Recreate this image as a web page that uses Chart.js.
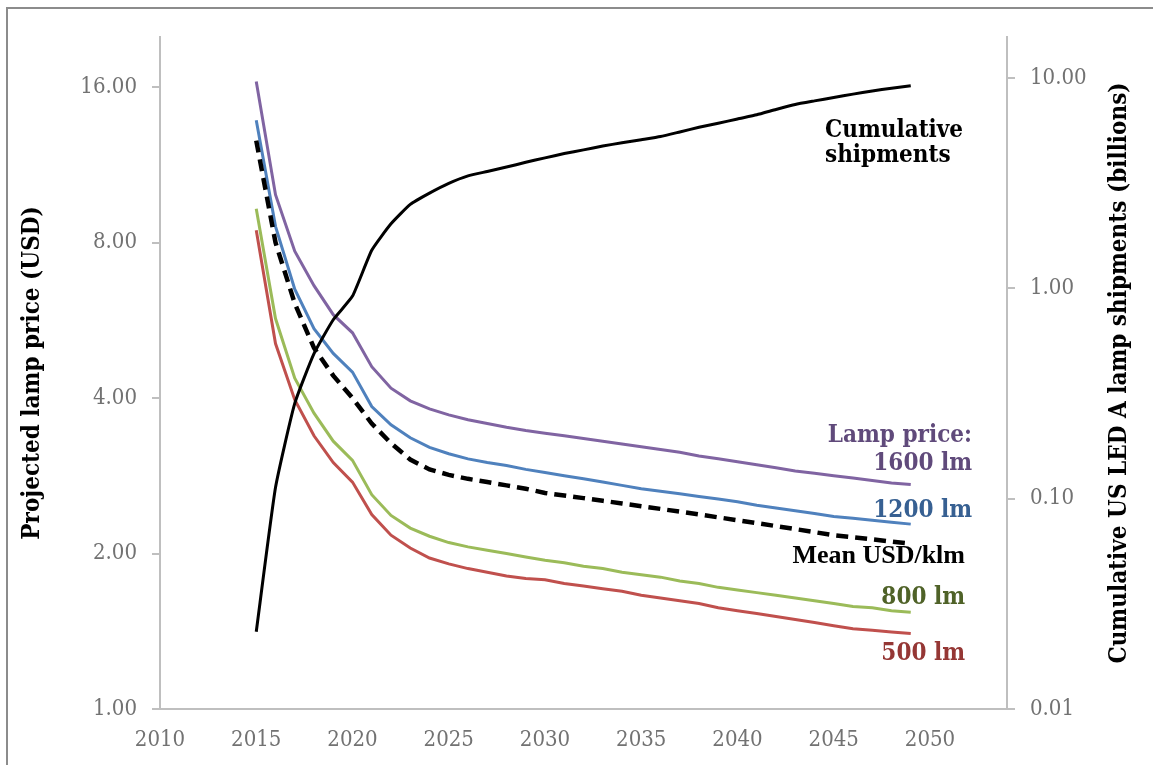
<!DOCTYPE html>
<html>
<head>
<meta charset="utf-8">
<script src="https://cdn.jsdelivr.net/npm/chart.js@4.4.1/dist/chart.umd.min.js"></script>
<style>
  html, body { margin: 0; padding: 0; background: #ffffff; }
  canvas { display: block; }
</style>
</head>
<body>
<canvas id="chart" width="1153" height="765"></canvas>
<script>
// Projection years
const years = [2015, 2016, 2017, 2018, 2019, 2020, 2021, 2022, 2023, 2024,
               2025, 2026, 2027, 2028, 2029, 2030, 2031, 2032, 2033, 2034,
               2035, 2036, 2037, 2038, 2039, 2040, 2041, 2042, 2043, 2044,
               2045, 2046, 2047, 2048, 2049];

// Projected lamp prices (USD) by lumen output
const price1600 = [16.4, 9.9, 7.7, 6.6, 5.8, 5.35, 4.6, 4.18, 3.95, 3.81,
                   3.71, 3.63, 3.57, 3.51, 3.46, 3.42, 3.38, 3.34, 3.30, 3.26,
                   3.22, 3.18, 3.14, 3.09, 3.05, 3.01, 2.97, 2.93, 2.89, 2.86,
                   2.83, 2.80, 2.77, 2.74, 2.72];
const price1200 = [13.8, 8.6, 6.5, 5.45, 4.88, 4.49, 3.85, 3.55, 3.35, 3.21,
                   3.12, 3.05, 3.00, 2.96, 2.91, 2.87, 2.83, 2.79, 2.75, 2.71,
                   2.67, 2.64, 2.61, 2.58, 2.55, 2.52, 2.48, 2.45, 2.42, 2.39,
                   2.36, 2.34, 2.32, 2.30, 2.28];
const meanPerKlm = [12.6, 8.0, 6.1, 5.0, 4.42, 4.0, 3.57, 3.27, 3.04, 2.91,
                    2.84, 2.79, 2.75, 2.71, 2.67, 2.62, 2.59, 2.56, 2.53, 2.50,
                    2.47, 2.44, 2.41, 2.38, 2.35, 2.32, 2.29, 2.26, 2.23, 2.20,
                    2.17, 2.15, 2.13, 2.11, 2.09];
const price800 = [9.3, 5.7, 4.37, 3.74, 3.3, 3.03, 2.6, 2.37, 2.24, 2.16,
                  2.10, 2.06, 2.03, 2.00, 1.97, 1.94, 1.92, 1.89, 1.87, 1.84,
                  1.82, 1.80, 1.77, 1.75, 1.72, 1.70, 1.68, 1.66, 1.64, 1.62,
                  1.60, 1.58, 1.57, 1.55, 1.54];
const price500 = [8.45, 5.1, 3.97, 3.38, 3.0, 2.75, 2.38, 2.17, 2.05, 1.96,
                  1.91, 1.87, 1.84, 1.81, 1.79, 1.78, 1.75, 1.73, 1.71, 1.69,
                  1.66, 1.64, 1.62, 1.60, 1.57, 1.55, 1.53, 1.51, 1.49, 1.47,
                  1.45, 1.43, 1.42, 1.41, 1.40];

// Cumulative US LED A lamp shipments (billions)
const cumulativeShipments = [0.0233, 0.113, 0.284, 0.49, 0.71, 0.92, 1.52, 2.03, 2.51, 2.84,
                             3.16, 3.43, 3.60, 3.78, 3.98, 4.18, 4.38, 4.56, 4.76, 4.93,
                             5.10, 5.28, 5.55, 5.84, 6.10, 6.40, 6.70, 7.10, 7.50, 7.80,
                             8.10, 8.40, 8.70, 8.95, 9.20];

// Axis ticks
const yearTicks = [2010, 2015, 2020, 2025, 2030, 2035, 2040, 2045, 2050];
const priceTicks = [1, 2, 4, 8, 16];
const shipmentTicks = [0.01, 0.1, 1, 10];

const SERIF = '"DejaVu Serif Condensed", "DejaVu Serif", serif';
const TIMES = '"Liberation Serif", "Times New Roman", serif';
const AXIS_GREY = '#bfbfbf';
const TICK_TEXT = '#727272';

const points = vals => years.map((yr, i) => ({ x: yr, y: vals[i] }));

function setTicks(list) {
  return scale => { scale.ticks = list.map(v => ({ value: v })); };
}

// Text placed inside and around the plot
const notes = [
  { text: 'Cumulative', x: 825, y: 137, align: 'left', color: '#000000', font: `bold 24px ${SERIF}` },
  { text: 'shipments', x: 825, y: 162, align: 'left', color: '#000000', font: `bold 24px ${SERIF}` },
  { text: 'Lamp price:', x: 972, y: 442, align: 'right', color: '#604A7B', font: `bold 24px ${SERIF}` },
  { text: '1600 lm', x: 972, y: 470, align: 'right', color: '#604A7B', font: `bold 24px ${SERIF}` },
  { text: '1200 lm', x: 972, y: 517, align: 'right', color: '#376092', font: `bold 24px ${SERIF}` },
  { text: 'Mean USD/klm', x: 965, y: 563, align: 'right', color: '#000000', font: `bold 26px ${TIMES}` },
  { text: '800 lm', x: 965, y: 604, align: 'right', color: '#4F6228', font: `bold 24px ${SERIF}` },
  { text: '500 lm', x: 965, y: 660, align: 'right', color: '#953735', font: `bold 24px ${SERIF}` }
];

const axisTitles = [
  { text: 'Projected lamp price (USD)', x: 33, font: `bold 24px ${SERIF}` },
  { text: 'Cumulative US LED A lamp shipments (billions)', x: 1120, font: `bold 24px ${SERIF}` }
];

const framePlugin = {
  id: 'frame',
  beforeDraw(chart) {
    const ctx = chart.ctx;
    ctx.save();
    ctx.fillStyle = '#ffffff';
    ctx.fillRect(0, 0, chart.width, chart.height);
    ctx.strokeStyle = '#8c8c8c';
    ctx.lineWidth = 2;
    ctx.beginPath();
    ctx.moveTo(7, chart.height);
    ctx.lineTo(7, 8);
    ctx.lineTo(chart.width, 8);
    ctx.stroke();
    ctx.restore();
  }
};

const textPlugin = {
  id: 'texts',
  afterDraw(chart) {
    const ctx = chart.ctx;
    const area = chart.chartArea;
    const midY = (area.top + area.bottom) / 2;
    ctx.save();
    ctx.textBaseline = 'middle';
    ctx.textAlign = 'center';
    ctx.fillStyle = '#000000';
    axisTitles.forEach(t => {
      ctx.save();
      ctx.translate(t.x, midY);
      ctx.rotate(-Math.PI / 2);
      ctx.font = t.font;
      ctx.fillText(t.text, 0, 0);
      ctx.restore();
    });
    ctx.textBaseline = 'alphabetic';
    notes.forEach(n => {
      ctx.font = n.font;
      ctx.fillStyle = n.color;
      ctx.textAlign = n.align;
      ctx.fillText(n.text, n.x, n.y);
    });
    ctx.restore();
  }
};

const lineStyle = (label, data, color, axis, extra) => Object.assign({
  label: label,
  data: points(data),
  yAxisID: axis,
  borderColor: color,
  backgroundColor: color,
  borderWidth: 3,
  pointRadius: 0,
  tension: 0,
  fill: false
}, extra || {});

new Chart(document.getElementById('chart'), {
  type: 'line',
  data: {
    datasets: [
      lineStyle('Cumulative shipments', cumulativeShipments, '#000000', 'yShip', { borderWidth: 3, tension: 0.15 }),
      lineStyle('Mean USD/klm', meanPerKlm, '#000000', 'yPrice', { borderWidth: 4.5, borderDash: [12, 7] }),
      lineStyle('1600 lm', price1600, '#8064A2', 'yPrice'),
      lineStyle('1200 lm', price1200, '#4F81BD', 'yPrice'),
      lineStyle('800 lm', price800, '#9BBB59', 'yPrice'),
      lineStyle('500 lm', price500, '#C0504D', 'yPrice')
    ]
  },
  options: {
    responsive: false,
    animation: false,
    devicePixelRatio: 1,
    layout: { padding: { top: 37, left: 0, right: 0, bottom: 0 } },
    plugins: { legend: { display: false }, tooltip: { enabled: false } },
    scales: {
      x: {
        type: 'linear',
        position: 'bottom',
        min: 2010,
        max: 2054,
        bounds: 'data',
        afterBuildTicks: setTicks(yearTicks),
        afterFit: s => { s.height = 56; },
        grid: { display: false, drawTicks: false },
        border: { display: true, color: AXIS_GREY, width: 2 },
        ticks: {
          autoSkip: false,
          maxRotation: 0,
          padding: 18,
          color: TICK_TEXT,
          font: { family: SERIF, size: 22 },
          callback: v => String(v)
        }
      },
      yPrice: {
        type: 'logarithmic',
        position: 'left',
        min: 1,
        max: 20,
        bounds: 'data',
        afterBuildTicks: setTicks(priceTicks),
        afterFit: s => { s.width = 160; },
        grid: { display: true, drawOnChartArea: false, drawTicks: true, tickLength: 8, color: AXIS_GREY, lineWidth: 2 },
        border: { display: true, color: AXIS_GREY, width: 2 },
        ticks: {
          autoSkip: false,
          padding: 15,
          color: TICK_TEXT,
          font: { family: SERIF, size: 22 },
          callback: v => Number(v).toFixed(2)
        }
      },
      yShip: {
        type: 'logarithmic',
        position: 'right',
        min: 0.01,
        max: 15.7,
        bounds: 'data',
        afterBuildTicks: setTicks(shipmentTicks),
        afterFit: s => { s.width = 146; },
        grid: { display: true, drawOnChartArea: false, drawTicks: true, tickLength: 8, color: AXIS_GREY, lineWidth: 2 },
        border: { display: true, color: AXIS_GREY, width: 2 },
        ticks: {
          autoSkip: false,
          padding: 15,
          color: TICK_TEXT,
          font: { family: SERIF, size: 22 },
          callback: v => Number(v).toFixed(2)
        }
      }
    }
  },
  plugins: [framePlugin, textPlugin]
});
</script>
</body>
</html>
